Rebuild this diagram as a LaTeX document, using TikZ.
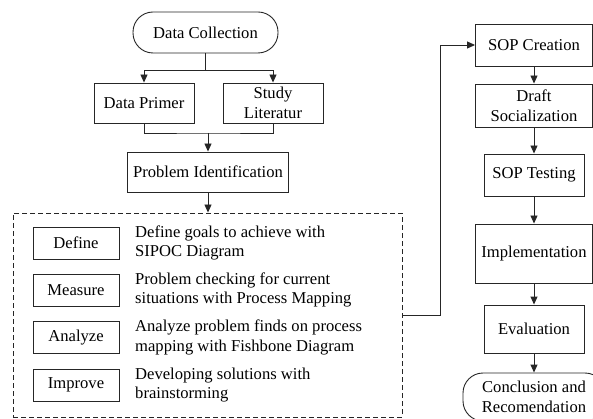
\documentclass[tikz,border=0pt]{standalone}
\usepackage{fontspec}
\setmainfont{Liberation Serif}
\usetikzlibrary{arrows.meta}
\begin{document}
\begin{tikzpicture}[x=1pt,y=-1pt,
  font=\fontsize{16.6}{19.5}\selectfont,
  box/.style={draw=black!85,line width=0.9pt,fill=white,align=center,inner sep=0pt},
  term/.style={box,rounded corners=20pt},
  phase/.style={box,minimum width=86pt,minimum height=32pt},
  note/.style={anchor=west,align=left,inner sep=0pt},
  link/.style={draw=black!85,line width=0.9pt},
  arr/.style={link,-{Triangle[width=7pt,length=8pt]}}]
\useasboundingbox (0,0) rectangle (593,419);
\clip (0,0) rectangle (593,419);

% left column: data gathering
\node[term,minimum width=145pt,minimum height=41pt] (dc) at (205.5,32.5) {Data Collection};
\node[box,minimum width=100pt,minimum height=40pt] (dp) at (144,103) {Data Primer};
\node[box,minimum width=100pt,minimum height=40pt] (sl) at (273,103) {Study\\Literatur};
\node[box,minimum width=161pt,minimum height=40pt] (pi) at (208,172) {Problem Identification};

% DMAI block
\node[draw=black!85,line width=0.9pt,dash pattern=on 5pt off 3pt,
      minimum width=389pt,minimum height=204pt,inner sep=0pt] (dbox) at (207.5,315) {};
\node[phase] (def) at (76,243) {Define};
\node[phase] (mea) at (76,290) {Measure};
\node[phase] (ana) at (76,337.5) {Analyze};
\node[phase] (imp) at (76,385) {Improve};
\node[note] (tdef) at (135,243) {Define goals to achieve with\\SIPOC Diagram};
\node[note] (tmea) at (135,290) {Problem checking for current\\situations with Process Mapping};
\node[note] (tana) at (135,337.5) {Analyze problem finds on process\\mapping with Fishbone Diagram};
\node[note] (timp) at (135,385) {Developing solutions with\\brainstorming};

% right column: SOP
\node[box,minimum width=117pt,minimum height=42pt] (sop) at (534,45) {SOP Creation};
\node[box,minimum width=117pt,minimum height=43pt] (dra) at (534,105.5) {Draft\\Socialization};
\node[box,minimum width=100pt,minimum height=42pt] (tst) at (534,175) {SOP Testing};
\node[box,minimum width=117pt,minimum height=59pt] (imq) at (534,253.5) {Implementation};
\node[box,minimum width=100pt,minimum height=48pt] (eva) at (534,329) {Evaluation};
\node[term,minimum width=142pt,minimum height=48pt] (con) at (534,397) {Conclusion and\\Recomendation};

% connectors
\coordinate (j1) at (205.5,70);
\coordinate (j2) at (208,133);
\draw[link] (dc.south) -- (j1);
\draw[arr] (j1) -| (dp.north);
\draw[arr] (j1) -| (sl.north);
\draw[link] (dp.south) |- (j2) -| (sl.south);
\draw[arr] (j2) -- (pi.north);
\draw[arr] (pi.south) -- (pi.south |- dbox.north);
\draw[arr] (dbox.east) -- ++(38,0) |- (sop.west);
\draw[arr] (sop) -- (dra);
\draw[arr] (dra) -- (tst);
\draw[arr] (tst) -- (imq);
\draw[arr] (imq) -- (eva);
\draw[arr] (eva) -- (con);
\end{tikzpicture}
\end{document}
